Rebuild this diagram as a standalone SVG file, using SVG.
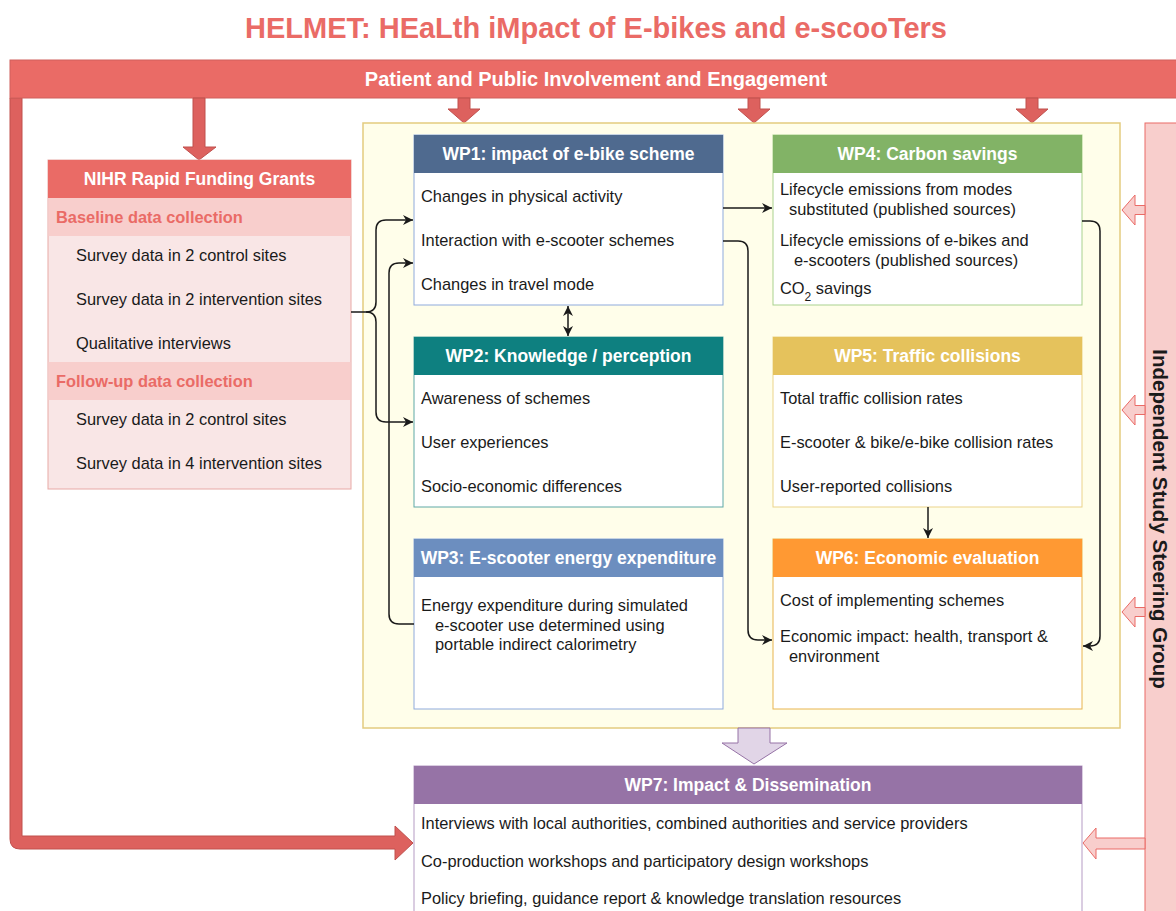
<svg xmlns="http://www.w3.org/2000/svg" width="1176" height="911" viewBox="0 0 1176 911">
<style>
text{font-family:"Liberation Sans",Arial,sans-serif;}
.title{font-size:29px;font-weight:bold;fill:#EA6B66;}
.hdr{font-size:17.5px;font-weight:bold;fill:#FFFFFF;text-anchor:middle;}
.item{font-size:16.4px;fill:#1A1A1A;}
.sec{font-size:16.4px;font-weight:bold;fill:#EA6B66;}
.body{fill:#FFFFFF;}
.conn{fill:none;stroke:#1A1A1A;stroke-width:1.5;}
.redarrow{fill:#DD615E;stroke:#C0504D;stroke-width:1;}
.pinkarrow{fill:#F8CECC;stroke:#EA6B66;stroke-width:1;}
</style>
<defs>
<marker id="ah" markerUnits="userSpaceOnUse" markerWidth="12" markerHeight="10" refX="10" refY="5" orient="auto">
<path d="M0,0 L10,5 L0,10 L3,5 Z" fill="#1A1A1A"/>
</marker>
<marker id="ahs" markerUnits="userSpaceOnUse" markerWidth="12" markerHeight="10" refX="10" refY="5" orient="auto-start-reverse">
<path d="M0,0 L10,5 L0,10 L3,5 Z" fill="#1A1A1A"/>
</marker>
</defs>
<rect x="0" y="0" width="1176" height="911" fill="#FFFFFF"/>

<text class="title" x="596" y="38" text-anchor="middle">HELMET: HEaLth iMpact of E-bikes and e-scooTers</text>

<g id="ppie-left-arrow">
<path class="redarrow" d="M10,98 L22,98 L22,836 L395,836 L395,826 L413,843 L395,860 L395,849 L20,849 Q10,849 10,839 Z"/>
</g>

<g id="ppie">
<rect x="10" y="60" width="1180" height="38" fill="#EA6B66" stroke="#D0605C" stroke-width="1"/>
<text x="596" y="86" text-anchor="middle" style="font-size:20px;font-weight:bold;fill:#FFFFFF">Patient and Public Involvement and Engagement</text>
</g>

<g id="ppie-arrows">
<path class="redarrow" d="M193,98 L205,98 L205,147 L216,147 L199,160 L183,147 L193,147 Z"/>
<path class="redarrow" d="M458,98 L470,98 L470,109 L480,109 L464,123 L448,109 L458,109 Z"/>
<path class="redarrow" d="M748,98 L760,98 L760,109 L770,109 L754,123 L738,109 L748,109 Z"/>
<path class="redarrow" d="M1026,98 L1038,98 L1038,109 L1048,109 L1032,123 L1016,109 L1026,109 Z"/>
</g>

<g id="steering">
<rect x="1145" y="123" width="45" height="800" fill="#F8CECC" stroke="#EA6B66" stroke-width="1"/>
<text x="1153" y="519" text-anchor="middle" transform="rotate(90 1153 519)" style="font-size:20.5px;font-weight:bold;fill:#1A1A1A">Independent Study Steering Group</text>
</g>

<g id="steering-arrows">
<path class="pinkarrow" d="M1145,205.5 L1135,205.5 L1135,195 L1122,210 L1135,225 L1135,214.5 L1145,214.5 Z"/>
<path class="pinkarrow" d="M1145,405.5 L1135,405.5 L1135,395 L1122,410 L1135,425 L1135,414.5 L1145,414.5 Z"/>
<path class="pinkarrow" d="M1145,607.5 L1135,607.5 L1135,597 L1122,612 L1135,627 L1135,616.5 L1145,616.5 Z"/>
<path class="pinkarrow" d="M1145,838 L1096,838 L1096,828 L1083,843 L1096,859 L1096,849 L1145,849 Z"/>
</g>

<g id="wp-container">
<rect x="363" y="123" width="757" height="605" fill="#FFFEEA" stroke="#E3CB7F" stroke-width="1.5"/>
</g>

<g id="nihr">
<rect x="48" y="160" width="303" height="329" fill="#F9E6E6" stroke="#E8A9A6" stroke-width="1"/>
<rect x="48" y="160" width="303" height="38" fill="#EA6B66"/>
<text class="hdr" x="199.5" y="185">NIHR Rapid Funding Grants</text>
<rect x="48.5" y="198" width="302" height="38" fill="#F8CECC"/>
<text class="sec" x="56" y="223">Baseline data collection</text>
<text class="item" x="76" y="261">Survey data in 2 control sites</text>
<text class="item" x="76" y="305">Survey data in 2 intervention sites</text>
<text class="item" x="76" y="349">Qualitative interviews</text>
<rect x="48.5" y="362" width="302" height="38" fill="#F8CECC"/>
<text class="sec" x="56" y="387">Follow-up data collection</text>
<text class="item" x="76" y="425">Survey data in 2 control sites</text>
<text class="item" x="76" y="469">Survey data in 4 intervention sites</text>
</g>

<g id="wp1">
<rect class="body" x="414" y="135" width="309" height="170" stroke="#8FAADC" stroke-width="1"/>
<rect x="414" y="135" width="309" height="38" fill="#4F6A8F"/>
<text class="hdr" x="568.5" y="160">WP1: impact of e-bike scheme</text>
<text class="item" x="421" y="202">Changes in physical activity</text>
<text class="item" x="421" y="246">Interaction with e-scooter schemes</text>
<text class="item" x="421" y="290">Changes in travel mode</text>
</g>

<g id="wp2">
<rect class="body" x="414" y="337" width="309" height="170" stroke="#5FA8A6" stroke-width="1"/>
<rect x="414" y="337" width="309" height="38" fill="#0E8080"/>
<text class="hdr" x="568.5" y="362">WP2: Knowledge / perception</text>
<text class="item" x="421" y="404">Awareness of schemes</text>
<text class="item" x="421" y="448">User experiences</text>
<text class="item" x="421" y="492">Socio-economic differences</text>
</g>

<g id="wp3">
<rect class="body" x="414" y="539" width="309" height="170" stroke="#8FAADC" stroke-width="1"/>
<rect x="414" y="539" width="309" height="38" fill="#6C8EBF"/>
<text class="hdr" x="568.5" y="564">WP3: E-scooter energy expenditure</text>
<text class="item" x="421" y="611">Energy expenditure during simulated</text>
<text class="item" x="435" y="631">e-scooter use determined using</text>
<text class="item" x="435" y="650">portable indirect calorimetry</text>
</g>

<g id="wp4">
<rect class="body" x="773" y="135" width="309" height="170" stroke="#A9D18E" stroke-width="1"/>
<rect x="773" y="135" width="309" height="38" fill="#82B366"/>
<text class="hdr" x="927.5" y="160">WP4: Carbon savings</text>
<text class="item" x="780" y="195">Lifecycle emissions from modes</text>
<text class="item" x="789" y="215">substituted (published sources)</text>
<text class="item" x="780" y="246">Lifecycle emissions of e-bikes and</text>
<text class="item" x="794" y="266">e-scooters (published sources)</text>
<text class="item" x="780" y="294">CO<tspan baseline-shift="sub" style="font-size:12px">2</tspan> savings</text>
</g>

<g id="wp5">
<rect class="body" x="773" y="337" width="309" height="170" stroke="#EBD38A" stroke-width="1"/>
<rect x="773" y="337" width="309" height="38" fill="#E5C25C"/>
<text class="hdr" x="927.5" y="362">WP5: Traffic collisions</text>
<text class="item" x="780" y="404">Total traffic collision rates</text>
<text class="item" x="780" y="448">E-scooter &amp; bike/e-bike collision rates</text>
<text class="item" x="780" y="492">User-reported collisions</text>
</g>

<g id="wp6">
<rect class="body" x="773" y="539" width="309" height="170" stroke="#E8B44F" stroke-width="1"/>
<rect x="773" y="539" width="309" height="38" fill="#FF9933"/>
<text class="hdr" x="927.5" y="564">WP6: Economic evaluation</text>
<text class="item" x="780" y="606">Cost of implementing schemes</text>
<text class="item" x="780" y="642">Economic impact: health, transport &amp;</text>
<text class="item" x="789" y="662">environment</text>
</g>

<g id="wp-arrow">
<path d="M738,728 L770,728 L770,743 L787,743 L754,764 L722,743 L738,743 Z" fill="#E1D5E7" stroke="#9673A6" stroke-width="1"/>
</g>

<g id="wp7">
<rect class="body" x="414" y="766" width="668" height="160" stroke="#B59BC4" stroke-width="1"/>
<rect x="414" y="766" width="668" height="38" fill="#9673A6"/>
<text class="hdr" x="748" y="791">WP7: Impact &amp; Dissemination</text>
<text class="item" x="421" y="829">Interviews with local authorities, combined authorities and service providers</text>
<text class="item" x="421" y="867">Co-production workshops and participatory design workshops</text>
<text class="item" x="421" y="904">Policy briefing, guidance report &amp; knowledge translation resources</text>
</g>

<g id="connectors">
<path class="conn" marker-end="url(#ah)" d="M351,312 L366,312 Q376,312 376,302 L376,230 Q376,220 386,220 L413,220"/>
<path class="conn" marker-end="url(#ah)" d="M366,312 Q376,312 376,322 L376,412 Q376,422 386,422 L413,422"/>
<path class="conn" marker-end="url(#ah)" d="M414,624 L399,624 Q389,624 389,614 L389,273 Q389,263 399,263 L413,263"/>
<path class="conn" marker-end="url(#ah)" d="M723,208 L772,208"/>
<path class="conn" marker-end="url(#ah)" d="M723,241 L738,241 Q748,241 748,251 L748,630 Q748,640 758,640 L772,640"/>
<path class="conn" marker-end="url(#ah)" d="M1082,221 L1090,221 Q1100,221 1100,231 L1100,636 Q1100,646 1090,646 L1083,646"/>
<path class="conn" marker-start="url(#ahs)" marker-end="url(#ah)" d="M568,306 L568,336"/>
<path class="conn" marker-end="url(#ah)" d="M928,507 L928,538"/>
</g>
</svg>
